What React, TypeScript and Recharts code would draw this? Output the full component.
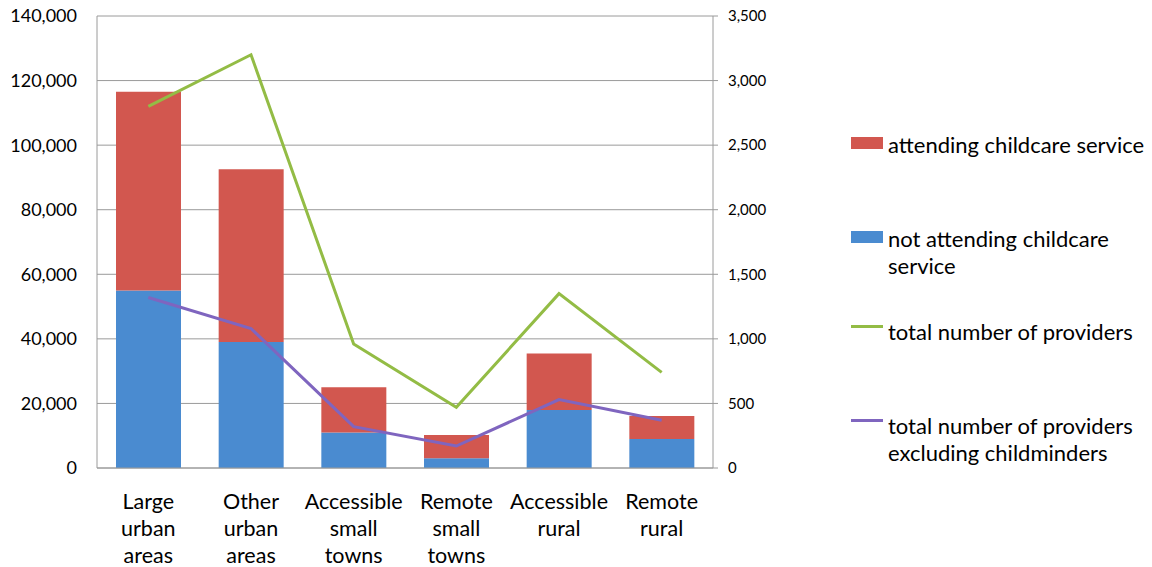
import React from "react";
import {
  ComposedChart,
  Bar,
  Line,
  XAxis,
  YAxis,
  CartesianGrid,
  Legend,
} from "recharts";

const categories = [
  ["Large", "urban", "areas"],
  ["Other", "urban", "areas"],
  ["Accessible", "small", "towns"],
  ["Remote", "small", "towns"],
  ["Accessible", "rural"],
  ["Remote", "rural"],
];
const notAttending = [55000, 39000, 11000, 3000, 18000, 9000];
const attending = [61500, 53500, 14000, 7200, 17500, 7100];
const totalProviders = [2800, 3200, 960, 470, 1350, 740];
const providersExclChildminders = [1320, 1080, 320, 170, 530, 370];
const leftTicks = [0, 20000, 40000, 60000, 80000, 100000, 120000, 140000];
const rightTicks = [0, 500, 1000, 1500, 2000, 2500, 3000, 3500];

const FONT = "Lato, 'Open Sans', sans-serif";
const RED = "#D2574F";
const BLUE = "#4A8BD0";
const GREEN = "#93BC45";
const PURPLE = "#7F65BF";
const GRID = "#9a9a9a";

const data = categories.map((c, i) => ({
  key: c.join(" "),
  notAttending: notAttending[i],
  attending: attending[i],
  total: totalProviders[i],
  excl: providersExclChildminders[i],
}));

const legendItems = [
  { lines: ["attending childcare service"], color: RED, kind: "rect", top: 146 },
  { lines: ["not attending childcare", "service"], color: BLUE, kind: "rect", top: 240 },
  { lines: ["total number of providers"], color: GREEN, kind: "line", top: 333 },
  { lines: ["total number of providers", "excluding childminders"], color: PURPLE, kind: "line", top: 427 },
];

function CategoryTick({ x, payload }: { x?: number; y?: number; payload?: { index: number } }) {
  const lines = categories[payload?.index ?? 0];
  return (
    <text textAnchor="middle" fontSize={21.5} fontFamily={FONT} fill="#000">
      {lines.map((l, i) => (
        <tspan key={i} x={x} y={509 + i * 27}>
          {l}
        </tspan>
      ))}
    </text>
  );
}

function ChartLegend() {
  return (
    <div style={{ position: "relative", width: 300, height: 470, fontFamily: FONT }}>
      {legendItems.map((it, i) => (
        <div key={i}>
          <div
            style={{
              position: "absolute",
              left: 0,
              top: it.kind === "rect" ? it.top - 9 : it.top - 8,
              width: 32,
              height: it.kind === "rect" ? 12 : 3,
              background: it.color,
            }}
          />
          {it.lines.map((l, j) => (
            <div
              key={j}
              style={{
                position: "absolute",
                left: 37,
                top: it.top - 15 + j * 27,
                fontSize: 22,
                lineHeight: "28px",
                color: "#000",
                whiteSpace: "nowrap",
              }}
            >
              {l}
            </div>
          ))}
        </div>
      ))}
    </div>
  );
}

export default function App() {
  return (
    <div style={{ position: "absolute", left: 0, top: 0, background: "#fff" }}>
      <ComposedChart
        width={1152}
        height={567}
        data={data}
        margin={{ top: 16, right: 379, bottom: 0, left: 0 }}
      >
        <CartesianGrid yAxisId="left" vertical={false} stroke={GRID} strokeWidth={1} />
        <XAxis
          dataKey="key"
          height={99}
          axisLine={{ stroke: GRID }}
          tickLine={false}
          tickSize={0}
          interval={0}
          tick={<CategoryTick />}
        />
        <YAxis
          yAxisId="left"
          width={97}
          domain={[0, 140000]}
          ticks={leftTicks}
          axisLine={{ stroke: GRID }}
          tickLine={false}
          tickSize={0}
          tickMargin={20}
          tick={{ fontSize: 18, fill: "#000", fontFamily: FONT }}
          tickFormatter={(v: number) => v.toLocaleString("en-US")}
        />
        <YAxis
          yAxisId="right"
          orientation="right"
          width={60}
          domain={[0, 3500]}
          ticks={rightTicks}
          axisLine={{ stroke: GRID }}
          tickLine={{ stroke: GRID }}
          tickSize={5}
          tickMargin={10}
          tick={{ fontSize: 15, fill: "#000", fontFamily: FONT, textAnchor: "start" }}
          tickFormatter={(v: number) => v.toLocaleString("en-US")}
        />
        <Bar
          yAxisId="left"
          dataKey="notAttending"
          name="not attending childcare service"
          stackId="a"
          fill={BLUE}
          barSize={65}
          isAnimationActive={false}
        />
        <Bar
          yAxisId="left"
          dataKey="attending"
          name="attending childcare service"
          stackId="a"
          fill={RED}
          barSize={65}
          isAnimationActive={false}
        />
        <Line
          yAxisId="right"
          dataKey="total"
          name="total number of providers"
          type="linear"
          stroke={GREEN}
          strokeWidth={3}
          dot={false}
          activeDot={false}
          isAnimationActive={false}
        />
        <Line
          yAxisId="right"
          dataKey="excl"
          name="total number of providers excluding childminders"
          type="linear"
          stroke={PURPLE}
          strokeWidth={3}
          dot={false}
          activeDot={false}
          isAnimationActive={false}
        />
        <Legend
          layout="horizontal"
          verticalAlign="middle"
          align="center"
          content={<ChartLegend />}
          wrapperStyle={{ left: 851, top: 0, width: 300, height: 470 }}
        />
      </ComposedChart>
    </div>
  );
}
